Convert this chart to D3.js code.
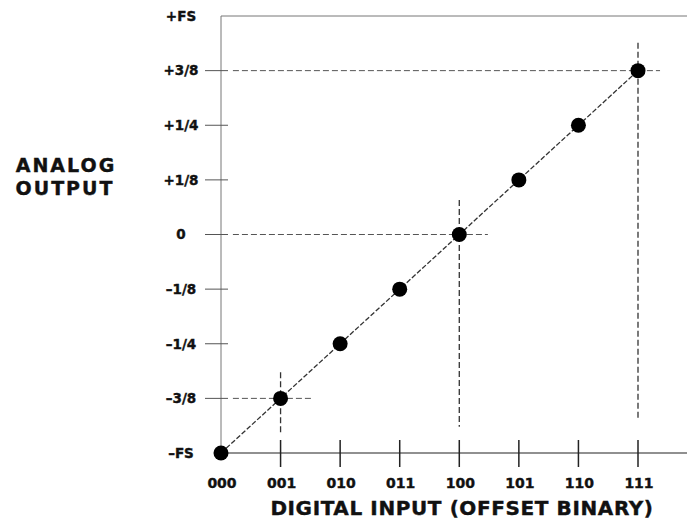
<!DOCTYPE html>
<html>
<head>
<meta charset="utf-8">
<script src="https://cdn.jsdelivr.net/npm/d3@7"></script>
<style>
  body { margin: 0; background: #fff; }
  text { font-family: "DejaVu Sans", sans-serif; font-weight: bold; fill: #111; stroke: #111; stroke-width: 0.4px; }
</style>
</head>
<body>
<div id="chart"></div>
<script>
// Transfer function data (output in eighths of full scale)
const codes = ["000", "001", "010", "011", "100", "101", "110", "111"];
const outputs = [-4, -3, -2, -1, 0, 1, 2, 3];
const yTickValues = [-4, -3, -2, -1, 0, 1, 2, 3, 4];
const yTickLabels = ["\u2013FS", "\u20133/8", "\u20131/4", "\u20131/8", "0", "+1/8", "+1/4", "+3/8", "+FS"];
// dashed guide lines for a few codes: index, where horizontal ends, vertical top/bottom
const guideIndex = [1, 4, 7];
const guideXEnd = [1.52, 4.48, 7.37];
const guideYTop = [-2.52, 0.63, 3.51];
const guideYBottom = [-3.64, -3.52, -3.4];

const width = 687, height = 520;
const svg = d3.select("#chart").append("svg").attr("width", width).attr("height", height);

const x = d3.scaleLinear().domain([0, 7]).range([221, 638]);
const y = d3.scaleLinear().domain([-4, 4]).range([453, 16]);

// frame: top line and left axis
svg.append("line").attr("x1", x(0)).attr("x2", width).attr("y1", y(4)).attr("y2", y(4))
  .attr("stroke", "#777").attr("stroke-width", 1);
svg.append("line").attr("x1", x(0)).attr("x2", x(0)).attr("y1", y(4)).attr("y2", y(-4))
  .attr("stroke", "#777").attr("stroke-width", 1);

// y ticks and labels
yTickValues.forEach((v, i) => {
  if (i > 0 && i < yTickValues.length - 1) {
    svg.append("line").attr("x1", x(0) - 16).attr("x2", x(0) + 7).attr("y1", y(v)).attr("y2", y(v))
      .attr("stroke", "#555").attr("stroke-width", 1);
  }
  svg.append("text").attr("x", 181).attr("y", y(v)).attr("dy", "0.36em")
    .attr("text-anchor", "middle").style("font-size", "13.5px").text(yTickLabels[i]);
});

// x axis
svg.append("line").attr("x1", x(0)).attr("x2", width).attr("y1", y(-4)).attr("y2", y(-4))
  .attr("stroke", "#222").attr("stroke-width", 1.2);
codes.forEach((c, i) => {
  if (i > 0) {
    svg.append("line").attr("x1", x(i)).attr("x2", x(i)).attr("y1", y(-4) - 13).attr("y2", y(-4) + 14)
      .attr("stroke", "#222").attr("stroke-width", 1.5);
  }
  svg.append("text").attr("x", x(i) + 1).attr("y", 488)
    .attr("text-anchor", "middle").style("font-size", "14px").text(c);
});

// guide lines
guideIndex.forEach((idx, k) => {
  svg.append("line").attr("x1", x(0.2)).attr("x2", x(guideXEnd[k]))
    .attr("y1", y(outputs[idx])).attr("y2", y(outputs[idx]))
    .attr("stroke", "#555").attr("stroke-width", 1).attr("stroke-dasharray", "6,3");
  svg.append("line").attr("x1", x(idx)).attr("x2", x(idx))
    .attr("y1", y(guideYTop[k])).attr("y2", y(guideYBottom[k]))
    .attr("stroke", "#333").attr("stroke-width", 1.3).attr("stroke-dasharray", "6,3");
});

// transfer line
svg.append("path")
  .datum(outputs.map((o, i) => [i, o]))
  .attr("fill", "none").attr("stroke", "#333").attr("stroke-width", 1.3)
  .attr("stroke-dasharray", "5,2")
  .attr("d", d3.line().x(d => x(d[0])).y(d => y(d[1])));

// points
svg.append("g").selectAll("circle")
  .data(outputs)
  .enter()
  .append("circle")
    .attr("cx", (d, i) => x(i))
    .attr("cy", d => y(d))
    .attr("r", 7.5)
    .attr("fill", "#000");

// axis titles
svg.append("text").attr("x", 66).attr("y", 172).attr("text-anchor", "middle")
  .style("font-size", "19px").style("letter-spacing", "2px").text("ANALOG");
svg.append("text").attr("x", 65).attr("y", 195).attr("text-anchor", "middle")
  .style("font-size", "19px").style("letter-spacing", "2px").text("OUTPUT");
svg.append("text").attr("x", 462).attr("y", 515).attr("text-anchor", "middle")
  .style("font-size", "20px").style("letter-spacing", "0.6px").text("DIGITAL INPUT (OFFSET BINARY)");
</script>
</body>
</html>
